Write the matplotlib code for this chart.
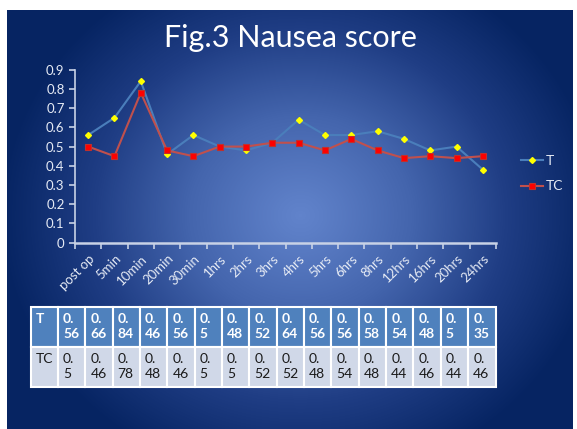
import numpy as np
import matplotlib.pyplot as plt
from matplotlib.colors import LinearSegmentedColormap
from matplotlib.patches import Rectangle

# -------------------------------------------------
# data

categories = ["post op", "5min", "10min", "20min", "30min", "1hrs", "2hrs",
              "3hrs", "4hrs", "5hrs", "6hrs", "8hrs", "12hrs", "16hrs",
              "20hrs", "24hrs"]

t_values = [0.56, 0.65, 0.84, 0.46, 0.56, 0.5, 0.48, 0.52, 0.64, 0.56,
            0.56, 0.58, 0.54, 0.48, 0.5, 0.38]

tc_values = [0.5, 0.45, 0.78, 0.48, 0.45, 0.5, 0.5, 0.52, 0.52, 0.48,
             0.54, 0.48, 0.44, 0.45, 0.44, 0.45]

t_table = ["0.56", "0.66", "0.84", "0.46", "0.56", "0.5", "0.48", "0.52",
           "0.64", "0.56", "0.56", "0.58", "0.54", "0.48", "0.5", "0.35"]

tc_table = ["0.5", "0.46", "0.78", "0.48", "0.46", "0.5", "0.5", "0.52",
            "0.52", "0.48", "0.54", "0.48", "0.44", "0.46", "0.44", "0.46"]

W, H = 577, 429
plt.rcParams["font.family"] = ["Lato", "DejaVu Sans"]

fig = plt.figure(figsize=(W / 100, H / 100), dpi=100)
fig.patch.set_facecolor("white")

# -------------------------------------------------
# slide background (radial gradient)

sx0, sx1, sy0, sy1 = 7, 573, 10, 429
bg = fig.add_axes([sx0 / W, 0, (sx1 - sx0) / W, (H - sy0) / H])
bg.axis("off")
xx, yy = np.meshgrid(np.arange(sx0, sx1), np.arange(sy0, sy1))
r = np.sqrt(((xx - 300) / 300.0) ** 2 + ((yy - 215) / 270.0) ** 2)
r = np.clip(r, 0, 1) ** 1.1
cmap = LinearSegmentedColormap.from_list(
    "slide", ["#6183cb", "#4465ad", "#1f3d84", "#062462"])
bg.imshow(r, cmap=cmap, vmin=0, vmax=1, aspect="auto",
          interpolation="bilinear")

fig.text(290 / W, 1 - 38 / H, "Fig.3 Nausea score", color="white",
         fontsize=22, ha="center", va="center")

# -------------------------------------------------
# line chart

axis_col = "#c8d2e6"
ax = fig.add_axes([75 / W, 1 - 242.7 / H, (496 - 75) / W, (242.7 - 69.7) / H])
ax.patch.set_alpha(0)
x = np.arange(len(categories))

ax.plot(x, t_values, color="#4a7ebb", lw=1.5, marker="D", ms=3,
        mfc="#ffff00", mec="#ffff00", label="T", zorder=3)
ax.plot(x, tc_values, color="#c0504d", lw=1.5, marker="s", ms=5,
        mfc="#ff0000", mec="#c0302d", mew=0.8, label="TC", zorder=4)

ax.set_xlim(-0.5, len(categories) - 0.5)
ax.set_ylim(0, 0.9)
ax.set_yticks(np.arange(0, 0.91, 0.1))
ax.set_yticklabels(["0"] + [f"{v:.1f}" for v in np.arange(0.1, 0.91, 0.1)])
ax.set_xticks(x)
ax.set_xticklabels(categories, rotation=45, ha="right",
                   rotation_mode="anchor")
ax.set_xticks(np.arange(-0.5, len(categories)), minor=True)

for side in ["top", "right"]:
    ax.spines[side].set_visible(False)
ax.spines["left"].set_color(axis_col)
ax.spines["bottom"].set_color(axis_col)
ax.spines["left"].set_linewidth(1.2)
ax.spines["bottom"].set_linewidth(1.8)

ax.tick_params(axis="y", colors=axis_col, labelcolor="#e6ebf5",
               labelsize=9.5, length=4, width=1.2)
ax.tick_params(axis="x", which="major", length=0, labelcolor="#e6ebf5",
               labelsize=9.5, pad=7)
ax.tick_params(axis="x", which="minor", length=4, width=1.2,
               colors=axis_col)

leg = ax.legend(loc="center left", bbox_to_anchor=(1.03, 0.4),
                frameon=False, fontsize=10, labelspacing=1.0,
                handlelength=1.6, handletextpad=0.2)
for txt in leg.get_texts():
    txt.set_color("#e6ebf5")

# -------------------------------------------------
# data table

tb = fig.add_axes([0, 0, 1, 1])
tb.set_xlim(0, W)
tb.set_ylim(H, 0)
tb.axis("off")

left, first_w, right = 30.5, 27.5, 495.5
top, row_h = 307, 40
col_w = (right - left - first_w) / len(categories)
edges = [left, left + first_w] + [left + first_w + col_w * (i + 1)
                                  for i in range(len(categories))]

rows = [("T", t_table, "#4f81bd", "white", "bold"),
        ("TC", tc_table, "#d0d8e8", "#1a1a1a", "normal")]

for ri, (name, vals, fill, tcol, weight) in enumerate(rows):
    y0 = top + ri * row_h
    cells = [name] + [v.replace(".", ".\n", 1) for v in vals]
    for ci, text in enumerate(cells):
        x0, x1 = edges[ci], edges[ci + 1]
        tb.add_patch(Rectangle((x0, y0), x1 - x0, row_h, facecolor=fill,
                               edgecolor="white", lw=1.5))
        tb.text(x0 + 5, y0 + 6, text, color=tcol, fontsize=10,
                fontweight=weight, ha="left", va="top", linespacing=1.25)

fig.savefig("out.png", dpi=100, facecolor="white")
